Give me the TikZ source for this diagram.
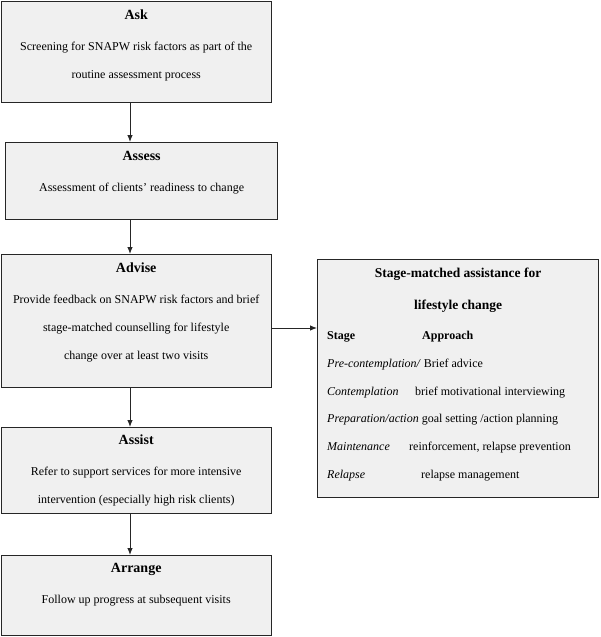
\documentclass[tikz,border=0pt]{standalone}
\usepackage{fontspec}
\setmainfont{Liberation Serif}
\usetikzlibrary{arrows.meta}

\begin{document}
\begin{tikzpicture}[
  x=1pt, y=-1pt,
  box/.style={draw=black!85, fill=black!6, line width=1.2pt, anchor=north west, inner sep=0pt},
  txt/.style={anchor=north, align=center, inner sep=0pt, font=\fontsize{12}{28}\selectfont},
  head/.style={font=\fontsize{14}{14}\selectfont\bfseries},
  arr/.style={-{Latex[length=7pt,width=5.5pt]}, line width=0.9pt, draw=black!85}
]
\useasboundingbox (0,0) rectangle (600,637);
% the five steps
\node[box, minimum width=270pt, minimum height=101pt] (ask) at (0.6,0.6) {};
\node[box, minimum width=272pt, minimum height=77pt] (assess) at (5,142) {};
\node[box, minimum width=270pt, minimum height=133pt] (advise) at (0.6,254) {};
\node[box, minimum width=270pt, minimum height=86pt] (assist) at (0.6,427) {};
\node[box, minimum width=270pt, minimum height=80pt] (arrange) at (0.6,555) {};
% side box
\node[box, minimum width=281pt, minimum height=238pt] (match) at (317,259) {};

\node[txt] (ask-t) at ([yshift=-9pt]ask.north)
  {\textbf{\fontsize{14}{14}\selectfont Ask}\\[3pt]
   Screening for SNAPW risk factors as part of the\\routine assessment process};
\node[txt] (assess-t) at ([yshift=-9pt]assess.north)
  {\textbf{\fontsize{14}{14}\selectfont Assess}\\[3pt]
   Assessment of clients’ readiness to change};
\node[txt] (advise-t) at ([yshift=-9pt]advise.north)
  {\textbf{\fontsize{14}{14}\selectfont Advise}\\[3pt]
   Provide feedback on SNAPW risk factors and brief\\
   stage-matched counselling for lifestyle\\change over at least two visits};
\node[txt] (assist-t) at ([yshift=-8pt]assist.north)
  {\textbf{\fontsize{14}{14}\selectfont Assist}\\[3pt]
   Refer to support services for more intensive\\
   intervention (especially high risk clients)};
\node[txt] (arrange-t) at ([yshift=-8pt]arrange.north)
  {\textbf{\fontsize{14}{14}\selectfont Arrange}\\[3pt]
   Follow up progress at subsequent visits};

\node[txt, font=\fontsize{13.5}{32}\selectfont\bfseries] (match-t) at ([yshift=-9pt]match.north)
  {Stage-matched assistance for\\lifestyle change};
\node[txt, anchor=north west, align=left, font=\fontsize{12}{27.8}\selectfont] (match-rows) at (327,331)
  {\makebox[95pt][l]{\textbf{Stage}}\textbf{Approach}\\
   \textit{Pre-contemplation/} Brief advice\\
   \makebox[88pt][l]{\textit{Contemplation}}brief motivational interviewing\\
   \textit{Preparation/action} goal setting /action planning\\
   \makebox[82pt][l]{\textit{Maintenance}}reinforcement, relapse prevention\\
   \makebox[94pt][l]{\textit{Relapse}}relapse management};

% connectors
\coordinate (spine) at (130,0);
\coordinate (side) at (0,328);
\draw[arr] (ask.south -| spine) -- (assess.north -| spine);
\draw[arr] (assess.south -| spine) -- (advise.north -| spine);
\draw[arr] (advise.south -| spine) -- (assist.north -| spine);
\draw[arr] (assist.south -| spine) -- (arrange.north -| spine);
\draw[arr] (advise.east |- side) -- (match.west |- side);
\end{tikzpicture}
\end{document}
